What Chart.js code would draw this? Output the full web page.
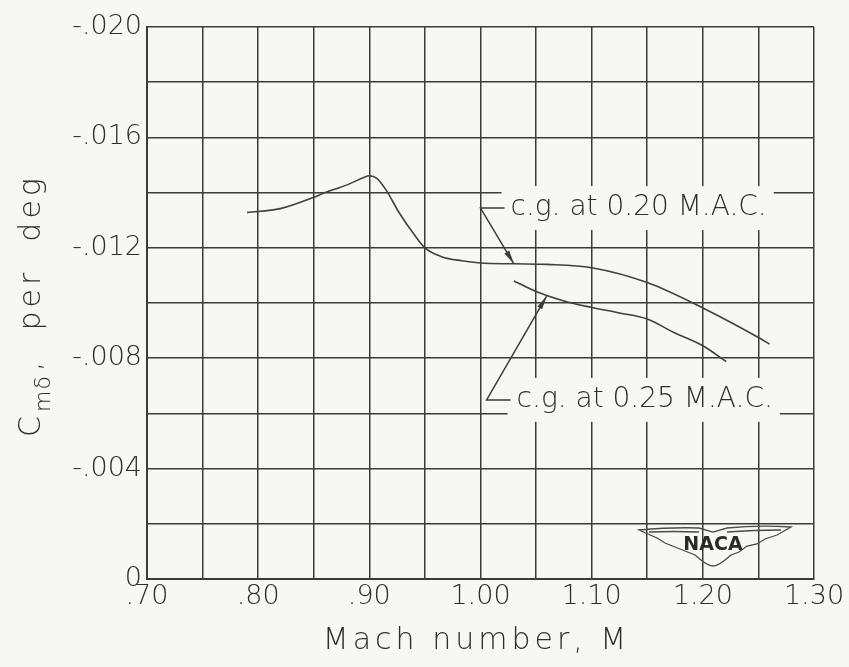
<!DOCTYPE html>
<html>
<head>
<meta charset="utf-8">
<script src="https://cdn.jsdelivr.net/npm/chart.js@4.4.1/dist/chart.umd.min.js"></script>
<style>
  html, body { margin: 0; padding: 0; background: #f7f7f5; }
  #wrap { width: 849px; height: 667px; }
</style>
</head>
<body>
<div id="wrap"><canvas id="chart" width="849" height="667"></canvas></div>
<script>
// Mach number / Cm-delta values
const mach020 = [0.79, 0.82, 0.85, 0.86, 0.88, 0.895, 0.90, 0.907, 0.915, 0.927, 0.94, 0.95, 0.965, 0.983, 1.00, 1.03, 1.06, 1.10, 1.15, 1.20, 1.25, 1.26];
const cm020   = [-0.01328, -0.01342, -0.01383, -0.0140, -0.01428, -0.01455, -0.01461, -0.01451, -0.0141, -0.01326, -0.0125, -0.0120, -0.01168, -0.01153, -0.01145, -0.01142, -0.0114, -0.01128, -0.01074, -0.00982, -0.00875, -0.00851];

const mach025 = [1.03, 1.05, 1.08, 1.10, 1.125, 1.15, 1.174, 1.20, 1.221];
const cm025   = [-0.0108, -0.01042, -0.01002, -0.00984, -0.00964, -0.00942, -0.00893, -0.00845, -0.00788];

const xTicks = [0.70, 0.80, 0.90, 1.00, 1.10, 1.20, 1.30];
const yTicks = [0, -0.004, -0.008, -0.012, -0.016, -0.020];

// callout labels: [text, leader start x, y, arrow tip x, y]
const notes = [
  ['c.g. at 0.20 M.A.C.', 1.000, -0.01344, 1.030, -0.01142],
  ['c.g. at 0.25 M.A.C.', 1.0055, -0.00649, 1.0595, -0.01025]
];

const ink = '#3b3b3b';
const txt = '#2e2e2e';
const fontFam = '"DejaVu Sans", sans-serif';

function toPts(xs, ys) { return xs.map((x, i) => ({ x: x, y: ys[i] })); }

const paper = {
  id: 'paper',
  beforeDraw(chart) {
    const c = chart.ctx;
    c.save();
    c.fillStyle = '#f7f7f5';
    c.fillRect(0, 0, chart.width, chart.height);
    c.restore();
  }
};

const callouts = {
  id: 'callouts',
  afterDatasetsDraw(chart) {
    const c = chart.ctx, xs = chart.scales.x, ys = chart.scales.y;
    c.save();
    c.font = '200 28px ' + fontFam;
    c.textBaseline = 'middle';
    notes.forEach(n => {
      const x0 = xs.getPixelForValue(n[1]), y0 = ys.getPixelForValue(n[2]);
      const tx = xs.getPixelForValue(n[3]), ty = ys.getPixelForValue(n[4]);
      const w = c.measureText(n[0]).width;
      // white patch behind text, breaks the grid like the original
      c.fillStyle = '#f7f7f5';
      c.fillRect(x0 + 21, y0 - 22, w + 16, 44);
      c.strokeStyle = ink;
      c.lineWidth = 1.5;
      c.beginPath();
      c.moveTo(x0 + 24, y0);
      c.lineTo(x0, y0);
      c.lineTo(tx, ty);
      c.stroke();
      // arrow head
      const a = Math.atan2(ty - y0, tx - x0);
      c.fillStyle = ink;
      c.beginPath();
      c.moveTo(tx, ty);
      c.lineTo(tx - 14 * Math.cos(a - 0.2), ty - 14 * Math.sin(a - 0.2));
      c.lineTo(tx - 14 * Math.cos(a + 0.2), ty - 14 * Math.sin(a + 0.2));
      c.closePath();
      c.fill();
      c.fillStyle = txt;
      c.fillText(n[0], x0 + 30, y0);
    });
    c.restore();
  },
  afterDraw(chart) {
    const c = chart.ctx, a = chart.chartArea;

    // x axis title, spaced out like the lettering guide
    c.save();
    c.fillStyle = txt;
    c.font = '200 30px ' + fontFam;
    c.letterSpacing = '4px';
    c.textAlign = 'center';
    c.textBaseline = 'middle';
    c.fillText('Mach number, M', (a.left + a.right) / 2 - 4, 641);
    c.restore();

    // y axis title: C with subscript m delta
    c.save();
    c.translate(30, (a.top + a.bottom) / 2);
    c.rotate(-Math.PI / 2);
    c.fillStyle = txt;
    c.textBaseline = 'alphabetic';
    c.letterSpacing = '4px';
    let x = -134;
    c.font = '200 30px ' + fontFam;
    c.fillText('C', x, 10);
    x += c.measureText('C').width;
    c.font = '200 22px ' + fontFam;
    c.letterSpacing = '1px';
    c.fillText('m\u03B4', x, 20);
    x += c.measureText('m\u03B4').width + 4;
    c.font = '200 30px ' + fontFam;
    c.letterSpacing = '4px';
    c.fillText(',  per  deg', x, 10);
    c.restore();

    // NACA emblem
    c.save();
    c.translate(713, 543);
    c.strokeStyle = '#4a4a4a';
    c.lineWidth = 1.3;
    c.beginPath();
    c.moveTo(-74, -13);
    c.quadraticCurveTo(-40, -16, -14, -15);
    c.lineTo(0, -11);
    c.lineTo(14, -15);
    c.quadraticCurveTo(45, -18, 78, -16);
    c.lineTo(64, -8);
    c.lineTo(52, -4);
    c.lineTo(44, 1);
    c.lineTo(34, 3);
    c.lineTo(26, 9);
    c.lineTo(18, 12);
    c.quadraticCurveTo(6, 23, 0, 23);
    c.quadraticCurveTo(-6, 23, -18, 12);
    c.lineTo(-28, 8);
    c.lineTo(-38, 4);
    c.lineTo(-48, 0);
    c.lineTo(-56, -5);
    c.closePath();
    c.stroke();
    c.beginPath();
    c.moveTo(-64, -11);
    c.quadraticCurveTo(-40, -12, -14, -11);
    c.moveTo(14, -11);
    c.quadraticCurveTo(40, -13, 68, -13);
    c.stroke();
    c.fillStyle = '#2a2a2a';
    c.font = 'bold 19px "DejaVu Sans", sans-serif';
    c.textAlign = 'center';
    c.textBaseline = 'middle';
    c.fillText('NACA', 0, 2);
    c.restore();
  }
};

new Chart(document.getElementById('chart'), {
  type: 'scatter',
  data: {
    datasets: [{
      label: 'c.g. at 0.20 M.A.C.',
      data: toPts(mach020, cm020),
      showLine: true,
      borderColor: '#404040',
      borderWidth: 1.6,
      pointRadius: 0,
      cubicInterpolationMode: 'monotone'
    }, {
      label: 'c.g. at 0.25 M.A.C.',
      data: toPts(mach025, cm025),
      showLine: true,
      borderColor: '#404040',
      borderWidth: 1.6,
      pointRadius: 0,
      cubicInterpolationMode: 'monotone'
    }]
  },
  options: {
    responsive: false,
    animation: false,
    layout: { padding: { top: 27, right: 35, left: 0, bottom: 0 } },
    plugins: { legend: { display: false }, tooltip: { enabled: false } },
    scales: {
      x: {
        type: 'linear',
        min: 0.70,
        max: 1.30,
        ticks: {
          stepSize: 0.05,
          padding: 2,
          color: txt,
          font: { family: fontFam, size: 27, weight: 200 },
          maxRotation: 0,
          autoSkip: false,
          callback: v => {
            const t = xTicks.find(k => Math.abs(k - v) < 1e-6);
            if (t === undefined) return '';
            return t < 1 ? '.' + Math.round(t * 100) : t.toFixed(2);
          }
        },
        grid: { color: ink, lineWidth: 1.5, drawTicks: false },
        border: { color: ink, width: 2 },
        afterFit: s => { s.height = 88; }
      },
      y: {
        type: 'linear',
        min: -0.020,
        max: 0,
        reverse: true,
        ticks: {
          stepSize: 0.002,
          padding: 5,
          color: txt,
          font: { family: fontFam, size: 27, weight: 200 },
          autoSkip: false,
          callback: v => {
            const t = yTicks.find(k => Math.abs(k - v) < 1e-7);
            if (t === undefined) return '';
            if (t === 0) return '0';
            return '-.' + String(Math.round(-t * 1000)).padStart(3, '0');
          }
        },
        grid: { color: ink, lineWidth: 1.5, drawTicks: false },
        border: { color: ink, width: 2 },
        afterFit: s => { s.width = 147; }
      }
    }
  },
  plugins: [paper, callouts]
});
</script>
</body>
</html>
